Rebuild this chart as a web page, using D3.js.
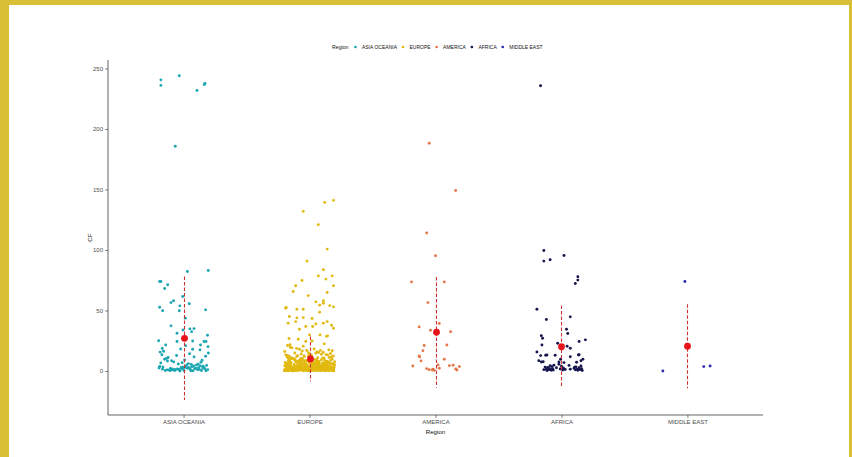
<!DOCTYPE html>
<html>
<head>
<meta charset="utf-8">
<script src="https://cdn.jsdelivr.net/npm/d3@7"></script>
<style>
  html, body { margin: 0; padding: 0; background: #d9bf35; }
  svg { display: block; }
  text { font-family: "Liberation Sans", Arial, sans-serif; }
</style>
</head>
<body>
<script>
// ---- data ----------------------------------------------------------------
const regions = ["ASIA OCEANIA", "EUROPE", "AMERICA", "AFRICA", "MIDDLE EAST"];
const regionColors = ["#1ba6b2", "#e2b90f", "#e4774a", "#16164f", "#2c2cb0"];
const yTicks = [0, 50, 100, 150, 200, 250];

// per-region mean and standard deviation of CF
const meanCF = [27, 9.9, 32, 20, 20.4];
const sdCF = [51, 18.6, 45.6, 34, 34.7];

// observations with their horizontal jitter (in category units)
const asiaCF = [240.6, 236, 244, 236.8, 237.6, 231.8, 185.7, 82.2, 83, 73.9, 73.9, 71.2, 68.1, 58, 56.5, 61.5, 55.5, 53.8, 52.7, 49.7, 49.7, 50.5, 43.6, 37.3, 33.9, 31.2, 34.8, 35, 32.5, 29.5, 25, 24.3, 24.8, 24.3, 24.3, 21.5, 20.9, 21.5, 20.1, 18.5, 18.2, 18, 17.4];
const asiaJitter = [-0.18, -0.18, -0.034, 0.164, 0.17, 0.106, -0.066, 0.03, 0.196, -0.19, -0.18, -0.126, -0.15, -0.08, -0.1, -0.007, 0.045, -0.03, -0.19, -0.166, -0.034, 0.175, 0.014, -0.1, -0.005, -0.052, 0.05, 0.083, 0.064, 0.19, -0.198, -0.052, 0.072, 0.162, 0.178, -0.142, 0.016, 0.135, 0.194, -0.169, -0.023, 0.072, 0.13];
const asiaLowCF = [14.2, 2.1, 0.4, 6.8, 3.3, 11.6, 1.2, 0.1, 4.9, 8.2, 2.7, 0.8, 15.6, 5.3, 1.6, 3.9, 0.3, 9.7, 2.3, 12.8, 1.1, 6.1, 0.6, 4.2, 2.9, 13.4, 0.2, 7.5, 1.8, 3.6, 10.4, 0.9, 5.8, 2.4, 1.4, 0.5, 8.9, 3.1, 16.3, 1.9, 0.7, 4.6, 2.2, 11.1, 1.3, 0.0, 6.6, 3.4, 1.0, 2.6, 9.1, 0.4, 5.0, 1.7, 14.8, 3.0, 0.6, 7.1, 2.0, 1.5, 4.1, 0.3, 12.2, 2.8, 0.9, 5.6, 1.2, 3.7, 0.1, 8.4, 2.5, 1.6];

const europeCF = [141, 139.3, 131.9, 120.9, 100.7, 90.8, 83.6, 78.6, 78.6, 75.9, 74.8, 70.4, 70.4, 65.7, 64.8, 62.3, 58, 57.1, 56, 51.9, 52.4, 51, 51, 54.4, 54, 53, 48.6, 45, 43.9, 44.1, 43.3, 39.5, 40.8, 38.9, 39.5, 40.8, 37.8, 35.3, 34.5, 36.7, 36.7, 29.8, 29, 28.6, 29.8, 26.8, 26.2, 24.3, 24.8, 22.4, 21, 21.6, 20.5];
const europeJitter = [0.19, 0.12, -0.05, 0.07, 0.14, -0.02, 0.11, 0.18, 0.07, 0.13, -0.06, -0.11, 0.19, -0.13, 0.14, -0.01, 0.11, 0.05, 0.11, -0.19, -0.185, -0.1, -0.05, 0.08, 0.16, 0.19, 0.08, -0.16, -0.1, -0.05, 0.02, -0.17, -0.11, 0.05, 0.11, 0.14, 0.175, 0.19, -0.08, -0.03, 0.025, 0.083, 0.143, 0.135, 0.0, -0.163, -0.09, -0.03, 0.02, 0.117, -0.175, -0.155, -0.05];
const europeLowCF = [
  3.1, 0.4, 7.2, 1.8, 5.5, 0.9, 10.3, 2.6, 4.4, 0.2, 8.7, 1.1, 6.3, 3.8, 0.7, 11.2, 2.2, 5.1, 0.5, 9.4,
  1.6, 4.0, 0.3, 6.9, 2.9, 1.3, 7.8, 0.6, 3.5, 12.1, 0.1, 5.9, 2.4, 1.0, 8.3, 4.7, 0.8, 3.3, 6.1, 1.5,
  9.9, 0.2, 2.7, 5.3, 1.2, 4.1, 0.4, 7.5, 2.0, 3.6, 10.8, 0.9, 6.6, 1.7, 4.9, 0.3, 2.5, 8.1, 1.4, 5.7,
  0.6, 3.0, 11.7, 2.3, 1.1, 6.4, 0.5, 4.3, 9.0, 1.9, 3.4, 0.1, 7.0, 2.8, 5.2, 0.7, 1.6, 10.0, 3.9, 0.4,
  6.0, 2.1, 8.6, 1.3, 4.6, 0.2, 3.2, 7.4, 0.8, 5.6, 1.8, 2.6, 12.4, 0.5, 4.2, 6.8, 1.0, 3.7, 9.6, 0.3,
  2.2, 5.0, 1.5, 7.9, 0.6, 3.5, 11.0, 2.9, 0.9, 4.8, 6.2, 1.2, 2.4, 8.8, 0.1, 3.8, 5.4, 1.7, 0.4, 10.6,
  2.0, 4.5, 7.1, 0.7, 3.1, 1.4, 6.7, 9.3, 0.2, 2.7, 5.8, 1.1, 4.0, 0.5, 8.0, 3.3, 1.9, 6.5, 0.8, 11.5,
  2.3, 4.4, 0.3, 7.7, 1.6, 3.0, 5.1, 0.9, 9.8, 2.5, 1.0, 6.3, 4.1, 0.6, 3.6, 8.4, 1.3, 5.5, 2.1, 0.4,
  7.3, 3.9, 1.8, 10.2, 0.2, 4.7, 2.8, 6.1, 1.5, 0.7, 5.9, 3.4, 9.1, 1.2, 2.6, 0.5, 7.6, 4.3, 1.9, 12.0,
  0.3, 3.2, 5.3, 2.0, 8.5, 0.8, 6.6, 1.4, 4.9, 3.7, 0.1, 10.9, 2.4, 5.7, 1.0, 7.0, 3.5, 0.6, 2.9, 9.5,
  1.2, 4.6, 0.5, 8.2, 2.8, 6.0, 1.7, 3.1, 0.2, 10.5, 5.2, 0.9, 2.3, 7.4, 1.4, 4.0, 0.6, 9.2, 3.6, 1.0,
  6.9, 2.5, 0.3, 5.4, 11.3, 1.8, 3.9, 0.7, 8.6, 2.1, 4.8, 1.3, 0.1, 6.4, 3.3, 7.8, 0.8, 2.7, 5.0, 1.5,
  9.7, 0.4, 3.5, 6.2, 1.1, 2.0, 4.3, 0.6, 7.1, 2.9, 10.1, 1.6, 5.6, 0.2, 3.8, 8.9, 1.9, 4.5, 0.5, 6.7,
  2.4, 1.0, 5.8, 3.0, 0.7, 11.9, 4.1, 1.4, 7.5, 2.2, 0.3, 6.1, 3.4, 9.0, 1.2, 5.3, 0.9, 2.6, 8.1, 4.7,
  0.4, 3.7, 1.7, 6.5, 2.8, 10.7, 0.1, 5.1, 1.3, 7.3, 3.2, 0.8, 4.4, 2.0, 9.4, 1.5, 6.8, 0.6, 3.6, 5.5,
  13.2, 15.8, 12.7, 17.4, 14.1, 19.6, 13.8, 16.5, 12.3, 18.2, 14.9, 13.5, 16.9, 12.9, 15.2, 17.9, 14.4, 13.1, 19.1, 15.5,
  12.5, 16.1, 14.7, 18.7, 13.3, 15.0, 12.1, 17.0, 14.0, 16.7
];

const americaCF = [188.2, 149.2, 114, 95.2, 73.6, 73.6, 56.5, 39.2, 36.4, 33.7, 32.5, 21, 21.5, 16.8, 12.4, 11.6, 8.3, 9.7, 4.1, 5, 1.9, 1.1, 0.8, 1.4, 0.6, 2.2, 4.4, 4.7, 1.7, 0.8, 3.6];
const americaJitter = [-0.05, 0.16, -0.07, 0.0, -0.19, 0.07, -0.06, 0.03, -0.13, -0.04, 0.12, -0.09, 0.09, -0.1, -0.13, -0.125, -0.115, 0.07, -0.18, 0.02, -0.07, -0.05, -0.025, -0.02, -0.01, 0.03, 0.11, 0.14, 0.16, 0.17, 0.19];

const africaCF = [235.7, 99.6, 90.8, 91.9, 95.4, 77.8, 75.1, 72.3, 51, 42.5, 44.7, 34.5, 30.9, 29.2, 27, 21.5, 24.3, 25.7, 22.9, 20.4, 18.8, 15.7, 12.7, 13, 13.2, 13, 9.7, 11.8, 13.2, 13.5, 8.5, 7.4, 7.6, 7.4, 6.9, 7.2, 9.7, 8.4,
  3.2, 1.5, 2.8, 0.9, 2.1, 4.4, 1.2, 0.5, 3.6, 1.8, 0.3, 2.5, 1.1, 4.8, 0.7, 1.6, 3.9, 0.8, 2.4, 5.5, 1.2, 2.2, 0.9, 3.4, 1.4, 0.6, 2.7, 1.1, 4.1, 1.9, 0.4, 3.1, 4.6, 1.5, 2.6];
const africaJitter = [-0.166, -0.14, -0.14, -0.09, 0.02, 0.13, 0.13, 0.11, -0.195, -0.12, 0.07, 0.04, 0.05, -0.16, -0.15, -0.155, 0.14, 0.19, -0.03, 0.045, 0.07, -0.195, -0.165, -0.125, -0.115, -0.05, -0.007, 0.07, 0.135, 0.14, -0.18, -0.16, -0.145, -0.02, 0.02, 0.12, 0.17, 0.155,
  -0.13, -0.12, -0.11, -0.1, -0.095, -0.09, -0.085, -0.08, -0.075, -0.07, -0.115, -0.105, -0.14, -0.06, -0.065, -0.01, 0.0, 0.01, 0.015, -0.02, 0.03, 0.1, 0.11, 0.115, 0.125, 0.13, 0.14, 0.15, 0.155, 0.16, 0.165, 0.105, 0.06, 0.07, -0.04];

const middleEastCF = [73.9, 0, 3.6, 4.1];
const middleEastJitter = [-0.02, -0.195, 0.13, 0.18];

// ---- assemble points -------------------------------------------------------
// spread for the dense low-value groups: a golden-ratio sequence in [-0.2, 0.2]
const spread = i => (((i + 1) * 0.6180339887) % 1 - 0.5) * 0.4;

const points = [];
function addPoints(region, values, jitter) {
  values.forEach((v, i) => points.push({ region, value: v, jitter: jitter ? jitter[i] : spread(i) }));
}
addPoints(regions[0], asiaCF, asiaJitter);
addPoints(regions[0], asiaLowCF, null);
addPoints(regions[1], europeCF, europeJitter);
addPoints(regions[1], europeLowCF, null);
addPoints(regions[2], americaCF, americaJitter);
addPoints(regions[3], africaCF, africaJitter);
addPoints(regions[4], middleEastCF, middleEastJitter);

const summary = regions.map((r, i) => ({ region: r, mean: meanCF[i], sd: sdCF[i] }));

// ---- layout -----------------------------------------------------------------
const W = 852, H = 457;
const plot = { left: 108, right: 763, top: 60, bottom: 415 };

const svg = d3.select("body").append("svg").attr("width", W).attr("height", H);

// white page inside the frame
svg.append("rect").attr("x", 9).attr("y", 5).attr("width", 840).attr("height", H - 5).attr("fill", "#ffffff");

// discrete x positions with ggplot-style 0.6 expansion
const x = d3.scaleLinear().domain([-0.6, regions.length - 0.4]).range([plot.left, plot.right]);
const xPos = r => x(regions.indexOf(r));
const y = d3.scaleLinear().domain([-36.4, 257]).range([plot.bottom, plot.top]);
const color = d3.scaleOrdinal().domain(regions).range(regionColors);

// axes
const yAxis = d3.axisLeft(y).tickValues(yTicks).tickSize(3).tickPadding(2);
const gy = svg.append("g").attr("transform", `translate(${plot.left},0)`).call(yAxis);
const xAxis = d3.axisBottom(x).tickValues(d3.range(regions.length)).tickFormat(i => regions[i]).tickSize(3).tickPadding(2);
const gx = svg.append("g").attr("transform", `translate(0,${plot.bottom})`).call(xAxis);

[gx, gy].forEach(g => {
  g.select(".domain").remove();
  g.selectAll(".tick line").attr("stroke", "#333").attr("stroke-width", 0.6);
  g.selectAll(".tick text").attr("fill", "#4d4d4d").style("font-size", "6px");
});
svg.append("line").attr("x1", plot.left).attr("x2", plot.left).attr("y1", plot.top).attr("y2", plot.bottom)
  .attr("stroke", "#222").attr("stroke-width", 0.7);
svg.append("line").attr("x1", plot.left).attr("x2", plot.right).attr("y1", plot.bottom).attr("y2", plot.bottom)
  .attr("stroke", "#222").attr("stroke-width", 0.7);

// axis titles
svg.append("text").attr("x", (plot.left + plot.right) / 2).attr("y", 434).attr("text-anchor", "middle")
  .style("font-size", "6.2px").attr("fill", "#111").text("Region");
svg.append("text").attr("transform", `translate(92,${(plot.top + plot.bottom) / 2}) rotate(-90)`)
  .attr("text-anchor", "middle").style("font-size", "6.2px").attr("fill", "#111").text("CF");

// jittered observations
svg.append("g").selectAll("circle").data(points).join("circle")
  .attr("cx", d => x(regions.indexOf(d.region) + d.jitter))
  .attr("cy", d => y(d.value))
  .attr("r", 1.45)
  .attr("fill", d => color(d.region));

// mean ± sd
svg.append("g").selectAll("line").data(summary).join("line")
  .attr("x1", d => Math.round(xPos(d.region)) + 0.5).attr("x2", d => Math.round(xPos(d.region)) + 0.5)
  .attr("y1", d => y(d.mean + d.sd)).attr("y2", d => y(d.mean - d.sd))
  .attr("stroke", "#cc3030").attr("stroke-width", 1.1).attr("stroke-dasharray", "3.5,2");
svg.append("g").selectAll("circle").data(summary).join("circle")
  .attr("cx", d => Math.round(xPos(d.region)) + 0.5).attr("cy", d => y(d.mean))
  .attr("r", 3.4).attr("fill", "#e8141b");

// legend across the top
const legend = svg.append("g").attr("transform", "translate(0,47)");
let lx = 332;
const title = legend.append("text").attr("x", lx).attr("y", 1.8).style("font-size", "5.2px").attr("fill", "#111").text("Region");
lx += title.node().getComputedTextLength() + 7;
regions.forEach(r => {
  legend.append("circle").attr("cx", lx).attr("cy", 0).attr("r", 1.35).attr("fill", color(r));
  const t = legend.append("text").attr("x", lx + 6.5).attr("y", 1.8).style("font-size", "5px").attr("fill", "#111").text(r);
  lx += 6.5 + t.node().getComputedTextLength() + 6;
});
</script>
</body>
</html>
